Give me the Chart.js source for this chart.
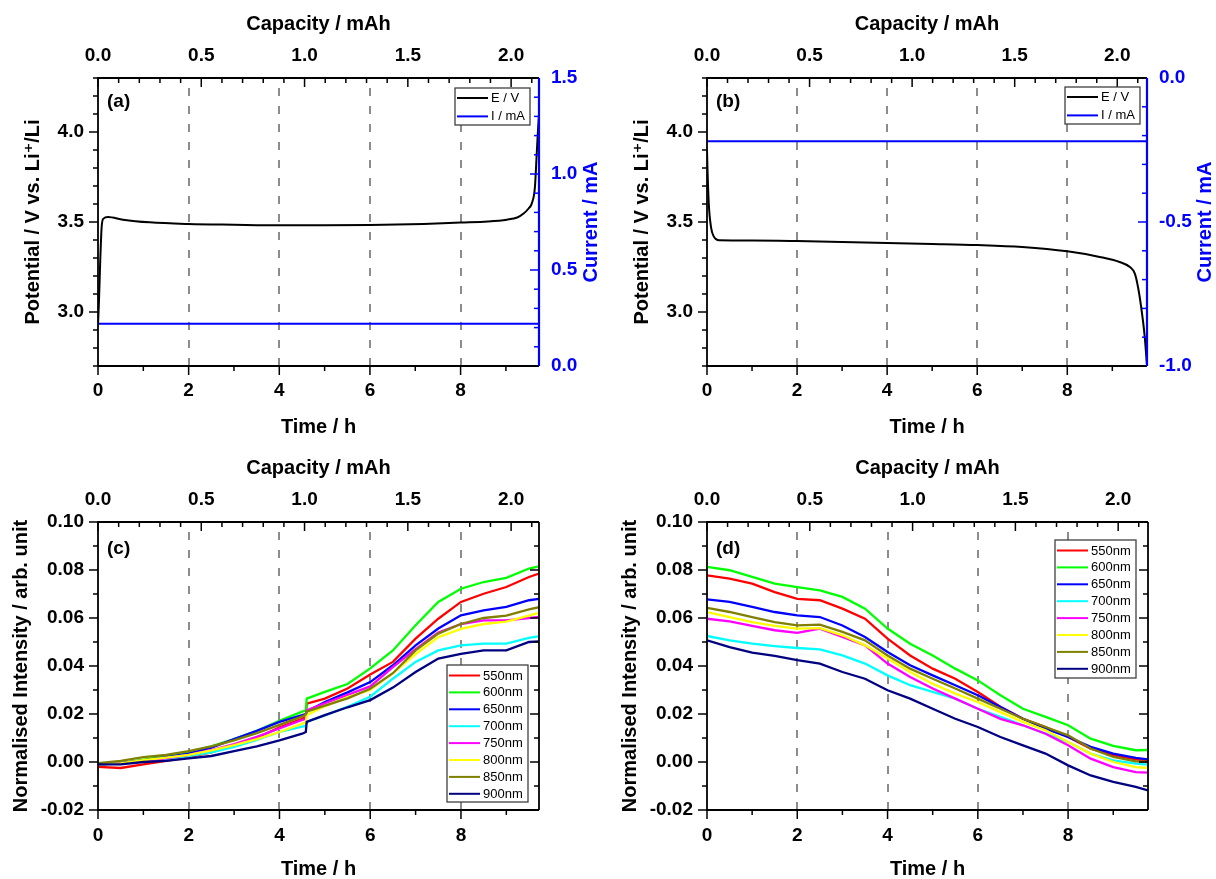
<!DOCTYPE html>
<html lang="en">
<head>
<meta charset="UTF-8">
<title>Potential, current and normalised intensity vs time</title>
<script src="https://cdn.jsdelivr.net/npm/chart.js"></script>
<style>
  * { margin: 0; padding: 0; box-sizing: border-box; }
  body { width: 1216px; height: 879px; background: #fff; position: relative; overflow: hidden; }
  canvas { position: absolute; }
  #panelA { left: 0; top: 0; }
  #panelB { left: 609px; top: 0; }
  #panelC { left: 0; top: 445px; }
  #panelD { left: 609px; top: 445px; }
</style>
</head>
<body>
<canvas id="panelA" width="609" height="445"></canvas>
<canvas id="panelB" width="607" height="445"></canvas>
<canvas id="panelC" width="609" height="434"></canvas>
<canvas id="panelD" width="607" height="434"></canvas>

<script>
// ---- tick labels ----
const timeTicks = [0, 2, 4, 6, 8];
const capTicks = [0, 0.5, 1, 1.5, 2];
const potTicks = [3.0, 3.5, 4.0];
const currentTicksA = [0, 0.5, 1, 1.5];
const currentTicksB = [-1, -0.5, 0];
const intensityTicks = [-0.02, 0, 0.02, 0.04, 0.06, 0.08, 0.10];

// ---- (a) charge: potential and current ----
const timeA = [0, 0.02, 0.05, 0.08, 0.12, 0.22, 0.55, 1.14, 2, 3, 4, 5, 6, 7.18, 8, 8.6, 9.02, 9.25, 9.39, 9.5, 9.57, 9.64, 9.68, 9.71, 9.73];
const potA = [2.93, 3.05, 3.29, 3.47, 3.519, 3.528, 3.513, 3.498, 3.489, 3.485, 3.482, 3.482, 3.483, 3.489, 3.497, 3.503, 3.513, 3.525, 3.547, 3.575, 3.602, 3.694, 3.88, 4.02, 4.1];
const currentTimeA = [0, 9.73];
const currentA = [0.22, 0.22];

// ---- (b) discharge: potential and current ----
const timeB = [0, 0.01, 0.04, 0.09, 0.15, 0.2, 0.27, 1, 2, 3, 4, 5, 6, 7, 8, 8.72, 9.16, 9.39, 9.5, 9.57, 9.64, 9.72, 9.77];
const potB = [3.9, 3.8, 3.6, 3.47, 3.42, 3.405, 3.398, 3.397, 3.394, 3.389, 3.383, 3.378, 3.372, 3.361, 3.337, 3.306, 3.278, 3.25, 3.213, 3.139, 3.028, 2.861, 2.70];
const currentTimeB = [0, 9.77];
const currentB = [-0.22, -0.22];

// ---- spectra ----
const wavelengths = ['550nm', '600nm', '650nm', '700nm', '750nm', '800nm', '850nm', '900nm'];
const seriesColors = ['#ff0000', '#00ff00', '#0000ff', '#00ffff', '#ff00ff', '#ffff00', '#808000', '#000080'];

// (c) charge
const timeC = [0, 0.5, 1, 1.5, 2, 2.5, 3, 3.5, 4, 4.5, 4.58, 4.6, 5, 5.5, 6, 6.5, 7, 7.5, 8, 8.5, 9, 9.5, 9.72];
const c550 = [-0.002, -0.0025, -0.001, 0.0005, 0.002, 0.004, 0.007, 0.010, 0.0145, 0.018, 0.0187, 0.0243, 0.0264, 0.0306, 0.0365, 0.0417, 0.0514, 0.0597, 0.0667, 0.0701, 0.0729, 0.0771, 0.0785];
const c600 = [-0.001, -0.0005, 0.001, 0.0025, 0.0042, 0.0065, 0.0095, 0.013, 0.0172, 0.021, 0.0215, 0.0264, 0.0292, 0.0325, 0.039, 0.0465, 0.057, 0.0667, 0.0722, 0.075, 0.0767, 0.0806, 0.0815];
const c650 = [-0.001, -0.0005, 0.0007, 0.002, 0.0035, 0.006, 0.0095, 0.013, 0.0167, 0.0195, 0.020, 0.021, 0.025, 0.029, 0.0333, 0.0403, 0.0486, 0.0556, 0.0611, 0.0632, 0.0646, 0.0674, 0.068];
const c700 = [-0.001, -0.0007, 0.0003, 0.0012, 0.0025, 0.004, 0.0063, 0.0092, 0.0125, 0.0147, 0.015, 0.0167, 0.0194, 0.023, 0.0272, 0.0347, 0.0417, 0.0465, 0.0486, 0.0493, 0.0493, 0.0517, 0.0524];
const c750 = [-0.001, -0.0006, 0.0005, 0.0015, 0.003, 0.005, 0.0075, 0.0105, 0.014, 0.0175, 0.018, 0.0215, 0.0245, 0.028, 0.0315, 0.0395, 0.047, 0.054, 0.0575, 0.059, 0.059, 0.060, 0.0605];
const c800 = [-0.001, -0.0006, 0.0008, 0.0018, 0.003, 0.0048, 0.007, 0.0095, 0.0125, 0.016, 0.0165, 0.0195, 0.0232, 0.027, 0.030, 0.037, 0.045, 0.052, 0.0555, 0.0575, 0.0585, 0.061, 0.0622];
const c850 = [-0.0005, 0.0005, 0.002, 0.003, 0.0045, 0.0065, 0.009, 0.012, 0.0155, 0.019, 0.0198, 0.021, 0.0235, 0.0265, 0.0305, 0.037, 0.0465, 0.0535, 0.0575, 0.060, 0.061, 0.0636, 0.0645];
const c900 = [-0.001, -0.001, 0.0, 0.0005, 0.0015, 0.0025, 0.0045, 0.0065, 0.009, 0.0118, 0.0125, 0.0167, 0.0195, 0.0228, 0.0258, 0.031, 0.0375, 0.0431, 0.0451, 0.0465, 0.0465, 0.050, 0.0503];

// (d) discharge
const timeD = [0, 0.5, 1, 1.5, 2, 2.5, 3, 3.5, 4, 4.5, 5, 5.5, 6, 6.5, 7, 7.5, 8, 8.5, 9, 9.5, 9.77];
const d550 = [0.0778, 0.0764, 0.0743, 0.0708, 0.068, 0.0674, 0.0639, 0.0597, 0.0514, 0.0444, 0.0389, 0.0347, 0.0292, 0.023, 0.018, 0.0146, 0.0104, 0.0056, 0.0028, 0.0011, 0.0005];
const d600 = [0.0813, 0.0799, 0.0771, 0.0743, 0.0729, 0.0715, 0.0688, 0.0639, 0.0556, 0.0493, 0.0444, 0.0389, 0.034, 0.0278, 0.0222, 0.0188, 0.0153, 0.0097, 0.0067, 0.0049, 0.005];
const d650 = [0.0678, 0.0667, 0.0646, 0.0625, 0.0611, 0.0604, 0.0569, 0.0521, 0.0458, 0.0403, 0.0361, 0.032, 0.0278, 0.0229, 0.018, 0.0139, 0.0104, 0.0063, 0.0035, 0.0017, 0.0011];
const d700 = [0.0525, 0.0507, 0.0493, 0.0483, 0.0475, 0.0469, 0.0444, 0.041, 0.0361, 0.032, 0.0292, 0.0264, 0.0222, 0.0188, 0.0153, 0.0118, 0.0083, 0.0035, 0.0007, -0.0007, -0.0011];
const d750 = [0.0597, 0.0586, 0.0567, 0.0549, 0.0538, 0.0556, 0.0521, 0.0486, 0.041, 0.0354, 0.0306, 0.0264, 0.0222, 0.018, 0.0153, 0.0118, 0.007, 0.0014, -0.0021, -0.0042, -0.0044];
const d800 = [0.0625, 0.0604, 0.0583, 0.0567, 0.0556, 0.0558, 0.0528, 0.0486, 0.0431, 0.0375, 0.0326, 0.0285, 0.025, 0.0208, 0.0167, 0.0132, 0.0083, 0.0035, 0.0, -0.0021, -0.0025];
const d850 = [0.0642, 0.0625, 0.0604, 0.0583, 0.0569, 0.0572, 0.0542, 0.0507, 0.0444, 0.0389, 0.0347, 0.0306, 0.0264, 0.0222, 0.018, 0.0146, 0.0111, 0.0056, 0.0021, 0.0003, 0.0];
const d900 = [0.0507, 0.0479, 0.0456, 0.0442, 0.0424, 0.041, 0.0375, 0.0347, 0.0299, 0.0264, 0.0222, 0.018, 0.0146, 0.0104, 0.0069, 0.0035, -0.0014, -0.0056, -0.0083, -0.0104, -0.0118];

const FONT = "'Liberation Sans', Arial, 'DejaVu Sans', sans-serif";
Chart.defaults.font.family = FONT;
Chart.defaults.color = '#000';

// frame, Origin-style ticks, dashed guides, legend box, panel letter
function drawTicks(ctx, chart, t) {
  const sc = chart.scales[t.scale], a = chart.chartArea;
  const k0 = Math.ceil(sc.min / t.minor - 1e-6), k1 = Math.floor(sc.max / t.minor + 1e-6);
  const s = t.dir === 'in' ? -1 : 1;
  ctx.strokeStyle = t.color || '#000';
  ctx.lineWidth = 1.5;
  for (let k = k0; k <= k1; k++) {
    const v = k * t.minor, r = v / t.major;
    const len = Math.abs(r - Math.round(r)) < 1e-6 ? 9 : 5;
    const p = sc.getPixelForValue(v);
    ctx.beginPath();
    if (t.side === 'bottom') { ctx.moveTo(p, a.bottom); ctx.lineTo(p, a.bottom + s * len); }
    if (t.side === 'top') { ctx.moveTo(p, a.top); ctx.lineTo(p, a.top - s * len); }
    if (t.side === 'left') { ctx.moveTo(a.left, p); ctx.lineTo(a.left - s * len, p); }
    if (t.side === 'right') { ctx.moveTo(a.right, p); ctx.lineTo(a.right + s * len, p); }
    ctx.stroke();
  }
}

const panelDecor = {
  id: 'panelDecor',
  beforeDatasetsDraw(chart, args, o) {
    const {ctx, chartArea: a} = chart;
    const xs = chart.scales.x;
    ctx.save();
    ctx.strokeStyle = '#808080';
    ctx.lineWidth = 1.8;
    ctx.setLineDash([8, 10]);
    o.dashes.forEach(v => {
      const px = Math.round(xs.getPixelForValue(v));
      ctx.beginPath(); ctx.moveTo(px, a.bottom); ctx.lineTo(px, a.top); ctx.stroke();
    });
    ctx.restore();
  },
  afterDatasetsDraw(chart, args, o) {
    const {ctx, chartArea: a} = chart;
    ctx.save();
    ctx.lineCap = 'butt';
    o.ticks.forEach(t => drawTicks(ctx, chart, t));
    // frame
    ctx.strokeStyle = '#000';
    ctx.lineWidth = 1.8;
    ctx.beginPath();
    ctx.moveTo(a.right, a.top); ctx.lineTo(a.left, a.top); ctx.lineTo(a.left, a.bottom); ctx.lineTo(a.right, a.bottom);
    ctx.stroke();
    ctx.strokeStyle = o.rightColor;
    ctx.lineWidth = o.rightColor === '#000' ? 1.8 : 2.2;
    ctx.beginPath(); ctx.moveTo(a.right, a.top); ctx.lineTo(a.right, a.bottom); ctx.stroke();

    // panel letter
    ctx.fillStyle = '#000';
    ctx.font = 'bold 19px ' + FONT;
    ctx.textBaseline = 'middle';
    ctx.textAlign = 'left';
    ctx.fillText(o.letter, 107, o.letterY);

    // right axis title, reading upwards
    if (o.rightTitle) {
      ctx.save();
      ctx.translate(o.rightTitle.x, (a.top + a.bottom) / 2);
      ctx.rotate(-Math.PI / 2);
      ctx.textAlign = 'center';
      ctx.fillStyle = o.rightColor;
      ctx.font = 'bold 20px ' + FONT;
      ctx.fillText(o.rightTitle.text, 0, 0);
      ctx.restore();
    }

    // legend box
    const L = o.legend;
    ctx.fillStyle = '#fff';
    ctx.fillRect(L.x, L.y, L.w, L.h);
    ctx.strokeStyle = '#404040';
    ctx.lineWidth = 1.3;
    ctx.strokeRect(L.x, L.y, L.w, L.h);
    ctx.font = '13px ' + FONT;
    chart.data.datasets.forEach((ds, i) => {
      const yy = L.y + L.first + i * L.row;
      ctx.strokeStyle = ds.borderColor;
      ctx.lineWidth = 2;
      ctx.beginPath(); ctx.moveTo(L.x + 2, yy); ctx.lineTo(L.x + 33, yy); ctx.stroke();
      ctx.fillStyle = '#000';
      ctx.fillText(ds.label, L.x + 36, yy + 0.5);
    });
    ctx.restore();
  }
};

function tickOpts(pad, color, fmt) {
  return {
    font: {size: 19, weight: 'bold', lineHeight: 1},
    padding: pad, color: color, autoSkip: false, maxRotation: 0, minRotation: 0,
    callback: v => fmt(v)
  };
}
function titleOpts(text, pad) {
  return {display: true, text: text, color: '#000', font: {size: 20, weight: 'bold', lineHeight: 1}, padding: pad};
}
function fixed(values) {
  return sc => { sc.ticks = values.map(v => ({value: v})); };
}

function scalesFor(p) {
  const s = {
    x: {
      type: 'linear', position: 'bottom', min: 0, max: p.tMax,
      grid: {display: false, drawTicks: false}, border: {display: false},
      ticks: tickOpts(p.bottomTickPad, '#000', v => v.toFixed(0)),
      afterBuildTicks: fixed(timeTicks),
      afterFit: sc => { sc.height = p.bottomH; },
      title: titleOpts('Time / h', {top: 0, bottom: p.bottomTitlePad})
    },
    xc: {
      type: 'linear', position: 'top', min: 0, max: p.capMax,
      grid: {display: false, drawTicks: false}, border: {display: false},
      ticks: tickOpts(12.5, '#000', v => v.toFixed(1)),
      afterBuildTicks: fixed(capTicks),
      afterFit: sc => { sc.height = p.topH; },
      title: titleOpts('Capacity / mAh', {top: p.topTitlePad, bottom: 0})
    },
    y: {
      type: 'linear', position: 'left', min: p.yMin, max: p.yMax,
      grid: {display: false, drawTicks: false}, border: {display: false},
      ticks: tickOpts(14, '#000', p.yFmt),
      afterBuildTicks: fixed(p.yTicks),
      afterFit: sc => { sc.width = 98; },
      title: titleOpts(p.yTitle, {top: p.leftTitlePad, bottom: 0})
    }
  };
  if (p.y2) {
    s.y2 = {
      type: 'linear', position: 'right', min: p.y2.min, max: p.y2.max,
      grid: {display: false, drawTicks: false}, border: {display: false},
      ticks: tickOpts(12, '#0000ff', v => v.toFixed(1)),
      afterBuildTicks: fixed(p.y2.ticks),
      afterFit: sc => { sc.width = p.y2.width; },
      title: {display: false}
    };
  }
  return s;
}

function xy(times, values) {
  return times.map((t, i) => ({x: t, y: values[i]}));
}

function potentialSets(tE, vE, tI, vI) {
  return [
    {label: 'E / V', data: xy(tE, vE), borderColor: '#000', borderWidth: 2, pointRadius: 0,
     cubicInterpolationMode: 'monotone', xAxisID: 'x', yAxisID: 'y'},
    {label: 'I / mA', data: xy(tI, vI), borderColor: '#0000ff', borderWidth: 2, pointRadius: 0,
     xAxisID: 'x', yAxisID: 'y2'}
  ];
}

function spectraSets(times, rows) {
  return wavelengths.map((label, i) => ({
    label: label, data: xy(times, rows[i]), borderColor: seriesColors[i],
    borderWidth: 2.3, pointRadius: 0, order: wavelengths.length - i,
    xAxisID: 'x', yAxisID: 'y'
  }));
}

function makePanel(id, datasets, p, decor) {
  return new Chart(document.getElementById(id), {
    type: 'line',
    data: {datasets: datasets},
    options: {
      responsive: false, animation: false, devicePixelRatio: 1,
      layout: {padding: {left: 0, top: 0, bottom: 0, right: p.padRight || 0}},
      plugins: {legend: {display: false}, tooltip: {enabled: false}, panelDecor: decor},
      scales: scalesFor(p)
    },
    plugins: [panelDecor]
  });
}

const potTitle = 'Potential / V vs. Li\u207A/Li';
const intTitle = 'Normalised Intensity / arb. unit';
const fmt1 = v => v.toFixed(1);
const fmt2 = v => v.toFixed(2);

const ticksTop = (yMajor, yMinor) => [
  {side: 'bottom', scale: 'x', major: 2, minor: 1, dir: 'out'},
  {side: 'top', scale: 'xc', major: 0.5, minor: 0.1, dir: 'in'},
  {side: 'left', scale: 'y', major: yMajor, minor: yMinor, dir: 'out'}
];

makePanel('panelA', potentialSets(timeA, potA, currentTimeA, currentA), {
  tMax: 9.73, capMax: 2.135, yMin: 2.7, yMax: 4.3, yTicks: potTicks, yFmt: fmt1, yTitle: potTitle,
  bottomH: 79, bottomTickPad: 15, bottomTitlePad: 8, topH: 78, topTitlePad: 14, leftTitlePad: 23,
  y2: {min: 0, max: 1.5, ticks: currentTicksA, width: 70}
}, {
  letter: '(a)', letterY: 102, dashes: [2, 4, 6, 8], rightColor: '#0000ff',
  ticks: ticksTop(0.5, 0.1).concat([{side: 'right', scale: 'y2', major: 0.5, minor: 0.1, dir: 'in', color: '#0000ff'}]),
  rightTitle: {text: 'Current / mA', x: 591},
  legend: {x: 455, y: 88, w: 75, h: 37, first: 10, row: 18.4}
});

makePanel('panelB', potentialSets(timeB, potB, currentTimeB, currentB), {
  tMax: 9.77, capMax: 2.145, yMin: 2.7, yMax: 4.3, yTicks: potTicks, yFmt: fmt1, yTitle: potTitle,
  bottomH: 79, bottomTickPad: 15, bottomTitlePad: 8, topH: 78, topTitlePad: 14, leftTitlePad: 23,
  y2: {min: -1, max: 0, ticks: currentTicksB, width: 69}
}, {
  letter: '(b)', letterY: 102, dashes: [2, 4, 6, 8], rightColor: '#0000ff',
  ticks: ticksTop(0.5, 0.1).concat([{side: 'right', scale: 'y2', major: 0.5, minor: 0.1, dir: 'in', color: '#0000ff'}]),
  rightTitle: {text: 'Current / mA', x: 596},
  legend: {x: 456, y: 87, w: 75, h: 37, first: 10, row: 18.4}
});

makePanel('panelC', spectraSets(timeC, [c550, c600, c650, c700, c750, c800, c850, c900]), {
  tMax: 9.72, capMax: 2.135, yMin: -0.02, yMax: 0.10, yTicks: intensityTicks, yFmt: fmt2, yTitle: intTitle,
  bottomH: 69, bottomTickPad: 16, bottomTitlePad: 0, topH: 77, topTitlePad: 13.5, leftTitlePad: 11,
  padRight: 70
}, {
  letter: '(c)', letterY: 103.5, dashes: [2, 4, 6, 8], rightColor: '#000',
  ticks: ticksTop(0.02, 0.01).concat([{side: 'right', scale: 'y', major: 0.02, minor: 0.01, dir: 'in'}]),
  legend: {x: 447, y: 220, w: 81, h: 137, first: 10.5, row: 16.9}
});

makePanel('panelD', spectraSets(timeD, [d550, d600, d650, d700, d750, d800, d850, d900]), {
  tMax: 9.77, capMax: 2.145, yMin: -0.02, yMax: 0.10, yTicks: intensityTicks, yFmt: fmt2, yTitle: intTitle,
  bottomH: 69, bottomTickPad: 16, bottomTitlePad: 0, topH: 77, topTitlePad: 13.5, leftTitlePad: 11,
  padRight: 68
}, {
  letter: '(d)', letterY: 103.5, dashes: [2, 4, 6, 8], rightColor: '#000',
  ticks: ticksTop(0.02, 0.01).concat([{side: 'right', scale: 'y', major: 0.02, minor: 0.01, dir: 'in'}]),
  legend: {x: 446, y: 95, w: 81, h: 138, first: 10.5, row: 16.9}
});
</script>
</body>
</html>
